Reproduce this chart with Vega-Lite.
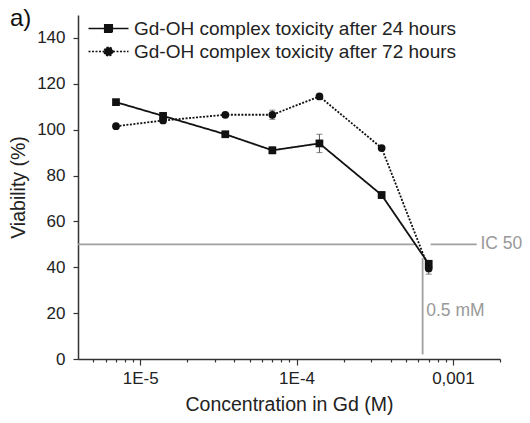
{
  "$schema": "https://vega.github.io/schema/vega-lite/v6.json",
  "width": 422,
  "height": 344,
  "autosize": "none",
  "padding": {"left": 78, "top": 15, "right": 30, "bottom": 64},
  "background": "white",
  "config": {
    "font": "Liberation Sans",
    "view": {"stroke": null},
    "axis": {"grid": false, "domainColor": "#333", "domainWidth": 1.5, "tickColor": "#333", "tickWidth": 1.2, "labelColor": "#222", "titleColor": "#222", "labelFont": "Liberation Sans", "titleFont": "Liberation Sans", "labelFontSize": 17, "titleFontSize": 19.5, "titleFontWeight": "normal"}
  },
  "title": {"text": "a)", "anchor": "start", "frame": "group", "fontSize": 24, "fontWeight": "normal", "color": "#111", "dx": -68, "dy": 35, "offset": 0, "baseline": "alphabetic"},
  "datasets": {
    "main": [
      {"conc": 7e-6, "series": "Gd-OH complex toxicity after 24 hours", "v": 112, "lo": 111, "hi": 113},
      {"conc": 1.4e-5, "series": "Gd-OH complex toxicity after 24 hours", "v": 106, "lo": 104.5, "hi": 107.5},
      {"conc": 3.5e-5, "series": "Gd-OH complex toxicity after 24 hours", "v": 98, "lo": 97, "hi": 99},
      {"conc": 7e-5, "series": "Gd-OH complex toxicity after 24 hours", "v": 91, "lo": 89.5, "hi": 92.5},
      {"conc": 1.4e-4, "series": "Gd-OH complex toxicity after 24 hours", "v": 94, "lo": 90, "hi": 98},
      {"conc": 3.5e-4, "series": "Gd-OH complex toxicity after 24 hours", "v": 71.5, "lo": 70, "hi": 73},
      {"conc": 7e-4, "series": "Gd-OH complex toxicity after 24 hours", "v": 41.5, "lo": 40, "hi": 43},
      {"conc": 7e-6, "series": "Gd-OH complex toxicity after 72 hours", "v": 101.5, "lo": 101, "hi": 102},
      {"conc": 1.4e-5, "series": "Gd-OH complex toxicity after 72 hours", "v": 104, "lo": 103, "hi": 105},
      {"conc": 3.5e-5, "series": "Gd-OH complex toxicity after 72 hours", "v": 106.5, "lo": 105.5, "hi": 107.5},
      {"conc": 7e-5, "series": "Gd-OH complex toxicity after 72 hours", "v": 106.5, "lo": 104.5, "hi": 108.5},
      {"conc": 1.4e-4, "series": "Gd-OH complex toxicity after 72 hours", "v": 114.5, "lo": 114, "hi": 115},
      {"conc": 3.5e-4, "series": "Gd-OH complex toxicity after 72 hours", "v": 92, "lo": 91.5, "hi": 92.5},
      {"conc": 7e-4, "series": "Gd-OH complex toxicity after 72 hours", "v": 39.5, "lo": 37, "hi": 42}
    ],
    "hlines": [
      {"x1": 4e-6, "x2": 5.8e-4, "y": 50},
      {"x1": 7.2e-4, "x2": 1.42e-3, "y": 50}
    ],
    "vline": [{"x": 6.4e-4, "y1": 2, "y2": 44}],
    "labels": [
      {"x": 1.5e-3, "y": 50, "t": "IC 50"},
      {"x": 6.75e-4, "y": 21, "t": "0.5 mM"}
    ]
  },
  "layer": [
    {
      "data": {"name": "hlines"},
      "mark": {"type": "rule", "color": "#a0a0a0", "strokeWidth": 1.8},
      "encoding": {
        "x": {"field": "x1", "type": "quantitative", "scale": {"type": "log", "domain": [4e-6, 2e-3], "nice": false},
          "axis": {
            "title": "Concentration in Gd (M)",
            "values": [5e-6, 6e-6, 7e-6, 8e-6, 9e-6, 1e-5, 2e-5, 3e-5, 4e-5, 5e-5, 6e-5, 7e-5, 8e-5, 9e-5, 1e-4, 2e-4, 3e-4, 4e-4, 5e-4, 6e-4, 7e-4, 8e-4, 9e-4, 1e-3, 2e-3],
            "labelExpr": "abs(log(datum.value)/LN10 + 5) < 0.001 ? '1E-5' : abs(log(datum.value)/LN10 + 4) < 0.001 ? '1E-4' : abs(log(datum.value)/LN10 + 3) < 0.001 ? '0,001' : ''",
            "tickSize": {"condition": {"test": "abs(log(datum.value)/LN10 - round(log(datum.value)/LN10)) < 0.001", "value": 6}, "value": 3},
            "labelPadding": 5,
            "labelFlush": false,
            "labelOverlap": false,
            "titlePadding": 9
          }},
        "x2": {"field": "x2"},
        "y": {"field": "y", "type": "quantitative", "title": "Viability (%)", "scale": {"domain": [0, 150], "nice": false},
          "axis": {
            "title": "Viability (%)",
            "values": [0, 10, 20, 30, 40, 50, 60, 70, 80, 90, 100, 110, 120, 130, 140, 150],
            "labelExpr": "datum.value % 20 == 0 && datum.value <= 140 ? datum.value : ''",
            "tickSize": {"condition": {"test": "datum.value % 20 == 0", "value": 5}, "value": 3},
            "labelPadding": 8,
            "labelOverlap": false,
            "titlePadding": 8
          }}
      }
    },
    {
      "data": {"name": "vline"},
      "mark": {"type": "rule", "color": "#a0a0a0", "strokeWidth": 1.8},
      "encoding": {
        "x": {"field": "x", "type": "quantitative"},
        "y": {"field": "y1", "type": "quantitative", "title": "Viability (%)"},
        "y2": {"field": "y2"}
      }
    },
    {
      "data": {"name": "labels"},
      "mark": {"type": "text", "align": "left", "baseline": "middle", "color": "#999", "fontSize": 17.5, "font": "Liberation Sans"},
      "encoding": {
        "x": {"field": "x", "type": "quantitative"},
        "y": {"field": "y", "type": "quantitative", "title": "Viability (%)"},
        "text": {"field": "t"}
      }
    },
    {
      "data": {"name": "main"},
      "mark": {"type": "errorbar", "ticks": {"size": 6}, "color": "#555", "thickness": 1},
      "encoding": {
        "x": {"field": "conc", "type": "quantitative"},
        "y": {"field": "lo", "type": "quantitative", "title": "Viability (%)"},
        "y2": {"field": "hi"}
      }
    },
    {
      "data": {"name": "main"},
      "mark": {"type": "line", "color": "#111", "strokeWidth": 1.8},
      "encoding": {
        "x": {"field": "conc", "type": "quantitative"},
        "y": {"field": "v", "type": "quantitative", "title": "Viability (%)"},
        "strokeDash": {"field": "series", "type": "nominal",
          "scale": {"domain": ["Gd-OH complex toxicity after 24 hours", "Gd-OH complex toxicity after 72 hours"], "range": [[1, 0], [2, 1.5]]},
          "legend": {
            "title": null,
            "orient": "none",
            "legendX": 21,
            "legendY": 4,
            "symbolSize": 100,
            "symbolStrokeColor": "#111",
            "symbolStrokeWidth": 1.6,
            "labelFontSize": 19,
            "labelColor": "#222",
            "labelFont": "Liberation Sans",
            "labelLimit": 400,
            "labelOffset": 16,
            "rowPadding": 3,
            "encode": {
              "symbols": {"update": {
                "shape": {"signal": "datum.value === 'Gd-OH complex toxicity after 24 hours' ? 'M-4,0H4M-0.75,-0.75H0.75V0.75H-0.75Z' : 'M-4,0H4M0.85,0A0.85,0.85,0,1,1,-0.85,0A0.85,0.85,0,1,1,0.85,0Z'"},
                "fill": {"value": "#111"},
                "fillOpacity": {"value": 1},
                "stroke": {"value": "#111"},
                "strokeWidth": {"value": 1.6},
                "strokeOpacity": {"value": 1}
              }}
            }
          }}
      }
    },
    {
      "data": {"name": "main"},
      "mark": {"type": "point", "filled": true, "color": "#111", "opacity": 1},
      "encoding": {
        "x": {"field": "conc", "type": "quantitative"},
        "y": {"field": "v", "type": "quantitative", "title": "Viability (%)"},
        "shape": {"field": "series", "type": "nominal", "scale": {"range": ["square", "circle"]}, "legend": null},
        "size": {"value": 60}
      }
    }
  ]
}
